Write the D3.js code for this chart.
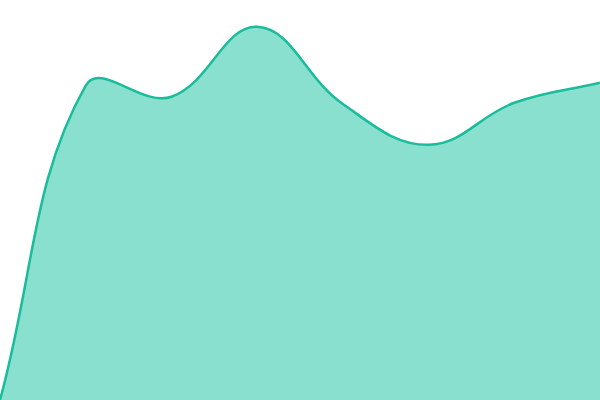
<!DOCTYPE html>
<html><head><meta charset="utf-8">
<script src="https://cdn.jsdelivr.net/npm/d3@7"></script>
<style>html,body{margin:0;padding:0;background:#fff;}svg{display:block;}</style>
</head><body>
<svg id="chart" width="600" height="400"></svg>
<script>
const categories = [0, 1, 2, 3, 4, 5, 6, 7];
const values = [0, 78.6, 75.8, 93.3, 74, 63.8, 74.3, 79.3];

const width = 600, height = 400;
const tension = 0.4;

// Tension spline (distance-weighted control points, clamped to the plot area)
function TensionCurve(context) { this._context = context; }
TensionCurve.prototype = {
  areaStart() { this._line = 0; },
  areaEnd() { this._line = NaN; },
  lineStart() { this._pts = []; },
  point(x, y) { this._pts.push([+x, +y]); },
  lineEnd() {
    const p = this._pts, n = p.length, c = this._context;
    if (!n) return;
    if (this._line) c.lineTo(p[0][0], p[0][1]); else c.moveTo(p[0][0], p[0][1]);
    const cps = p.map((cur, i) => {
      const prev = p[Math.max(i - 1, 0)], next = p[Math.min(i + 1, n - 1)];
      const d01 = Math.hypot(cur[0] - prev[0], cur[1] - prev[1]);
      const d12 = Math.hypot(next[0] - cur[0], next[1] - cur[1]);
      let s01 = d01 / (d01 + d12), s12 = d12 / (d01 + d12);
      if (isNaN(s01)) s01 = 0; if (isNaN(s12)) s12 = 0;
      const fa = tension * s01, fb = tension * s12;
      const clampX = v => Math.max(0, Math.min(width, v));
      const clampY = v => Math.max(0, Math.min(height, v));
      return {
        prev: [clampX(cur[0] - fa * (next[0] - prev[0])), clampY(cur[1] - fa * (next[1] - prev[1]))],
        next: [clampX(cur[0] + fb * (next[0] - prev[0])), clampY(cur[1] + fb * (next[1] - prev[1]))]
      };
    });
    for (let i = 1; i < n; i++) {
      c.bezierCurveTo(cps[i - 1].next[0], cps[i - 1].next[1], cps[i].prev[0], cps[i].prev[1], p[i][0], p[i][1]);
    }
    if (this._line || (this._line !== 0 && n === 1)) c.closePath();
    this._line = 1 - this._line;
  }
};
const curveTension = context => new TensionCurve(context);

const svg = d3.select("#chart");
const x = d3.scaleLinear().domain(d3.extent(categories)).range([0, width]);
const y = d3.scaleLinear().domain([0, 100]).range([height, 0]);
const data = categories.map((c, i) => ({c, v: values[i]}));

const area = d3.area().x(d => x(d.c)).y0(height).y1(d => y(d.v)).curve(curveTension);
const line = d3.line().x(d => x(d.c)).y(d => y(d.v)).curve(curveTension);

svg.append("path").datum(data).attr("d", area).attr("fill", "#8ae0cf");
svg.append("path").datum(data).attr("d", line).attr("fill", "none")
  .attr("stroke", "#1abc9c").attr("stroke-width", 2.5);
</script>
</body></html>
